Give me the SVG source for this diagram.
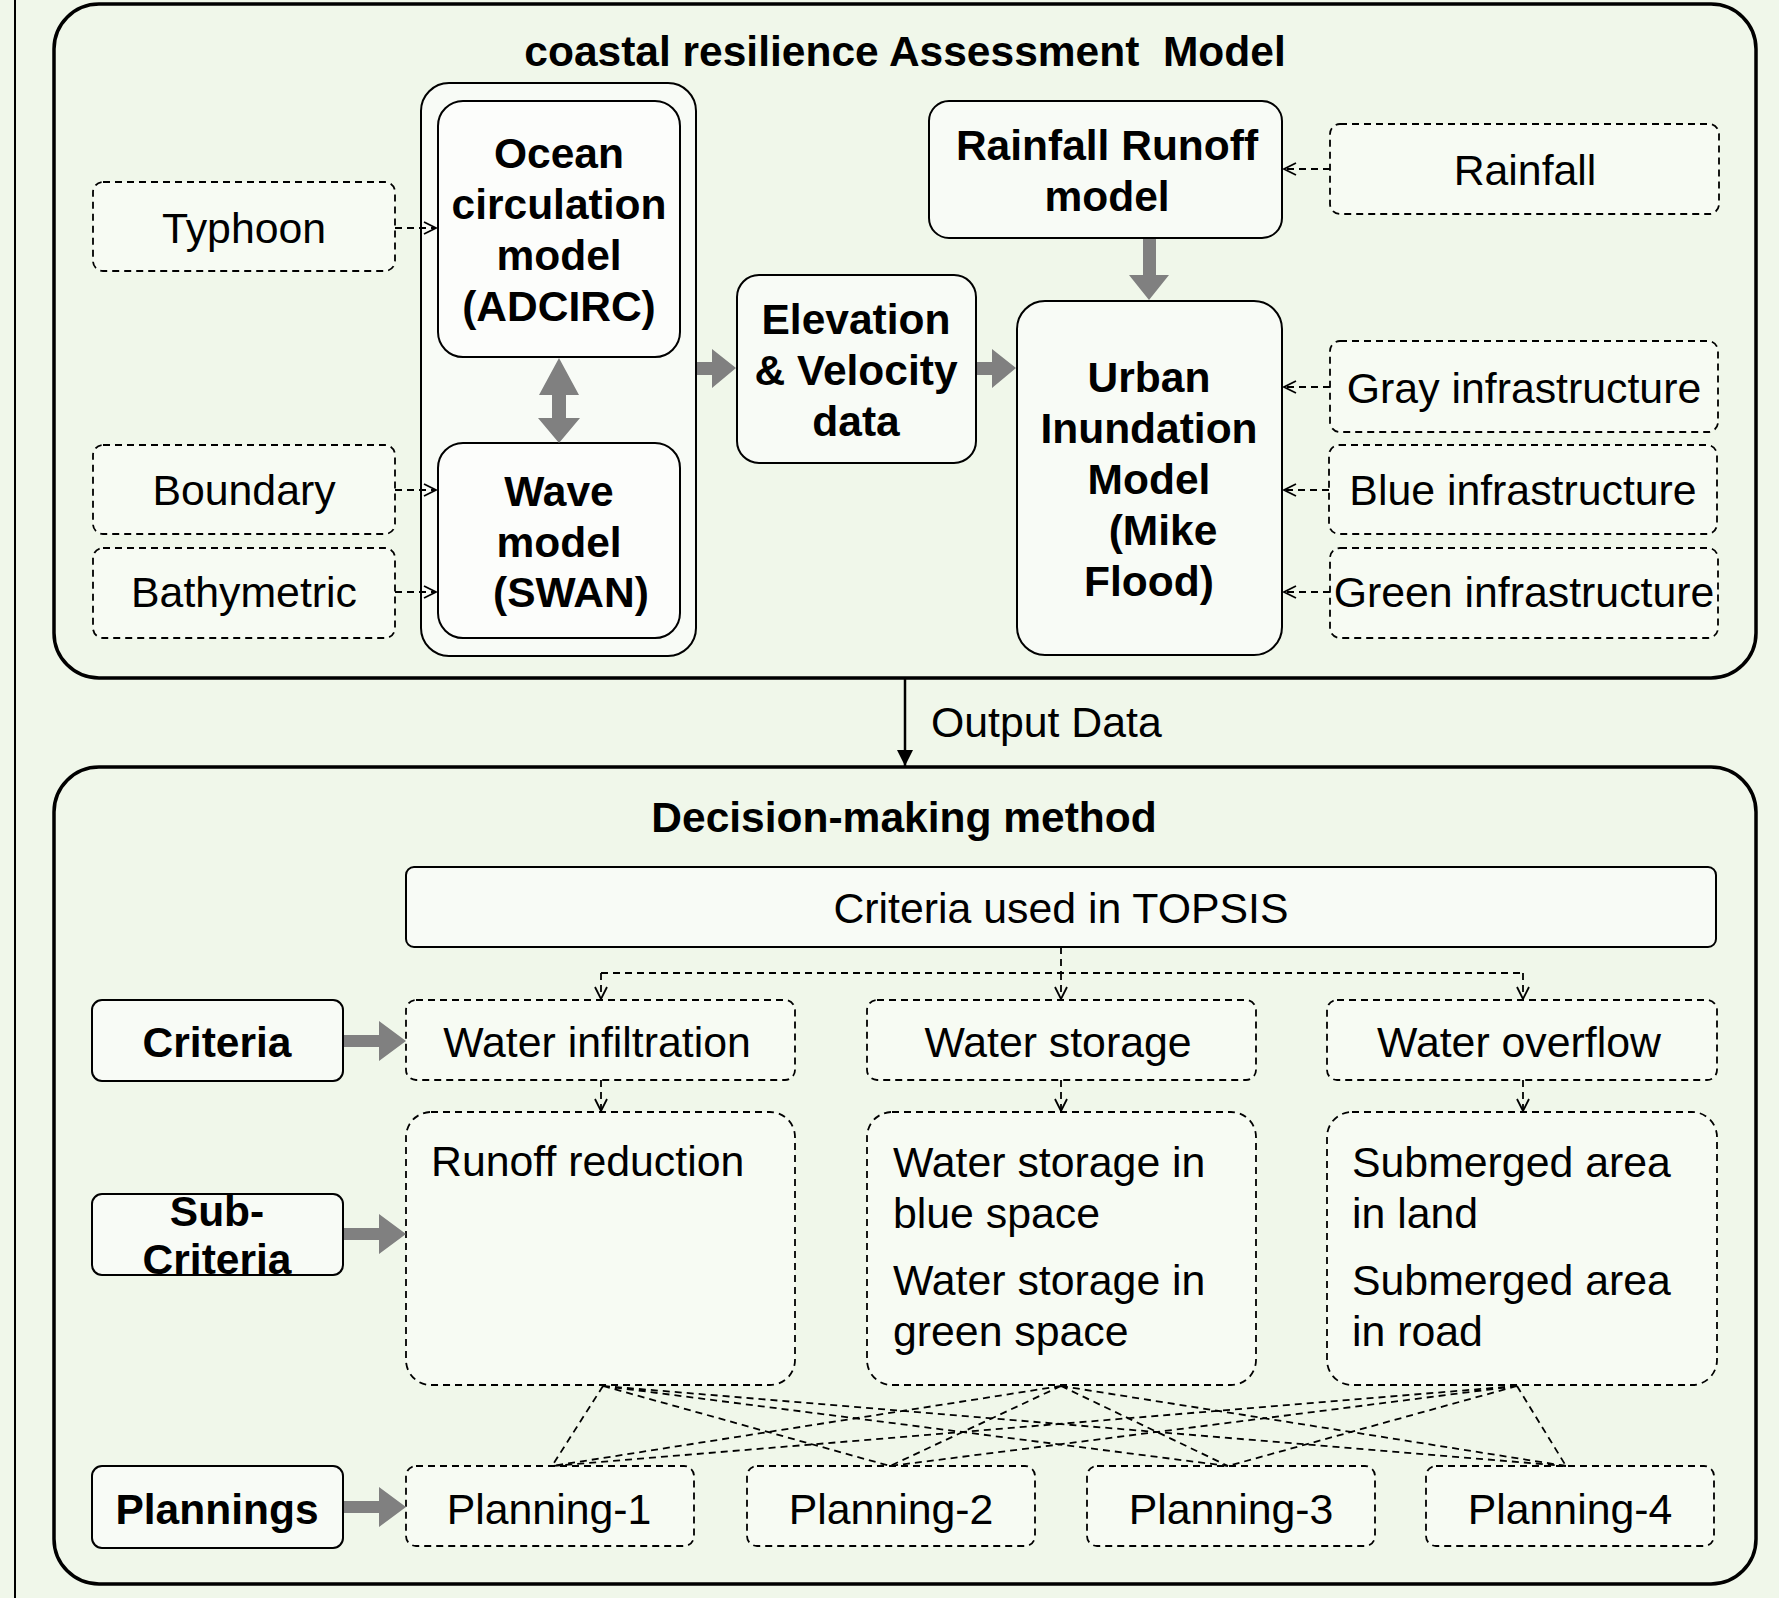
<svg xmlns="http://www.w3.org/2000/svg" width="1779" height="1598" viewBox="0 0 1779 1598">
<style>
text{font-family:"Liberation Sans",Arial,sans-serif;fill:#000}
.b{font-weight:bold;font-size:42.5px;text-anchor:middle}
.r{font-size:42.8px;text-anchor:middle}
.l{font-size:42.8px;text-anchor:start}
.frame{fill:none;stroke:#000;stroke-width:3.5}
.solid{fill:rgba(255,255,255,0.55);stroke:#000;stroke-width:2}
.dash{fill:rgba(255,255,255,0.45);stroke:#000;stroke-width:1.8;stroke-dasharray:7 5}
.dc{fill:none;stroke:#000;stroke-width:1.8;stroke-dasharray:7 5}
.gray{fill:#808080;stroke:none}
</style>
<defs>
<marker id="open" viewBox="0 0 14 14" refX="13" refY="7" markerWidth="14" markerHeight="14" markerUnits="userSpaceOnUse" orient="auto">
<path d="M1,1 L13,7 L1,13" fill="none" stroke="#000" stroke-width="1.8"/>
</marker>
<marker id="fill" viewBox="0 0 16 16" refX="16" refY="8" markerWidth="16" markerHeight="16" markerUnits="userSpaceOnUse" orient="auto">
<path d="M0,0 L16,8 L0,16 Z" fill="#000"/>
</marker>
</defs>
<rect width="1779" height="1598" fill="#f0f7ea"/>
<line x1="15" y1="0" x2="15" y2="1598" stroke="#000" stroke-width="2"/>

<g id="assessment-model">
<rect class="frame" x="54" y="4" width="1702" height="674" rx="45"/>
<text class="b" x="905" y="66" xml:space="preserve">coastal resilience Assessment  Model</text>
</g>

<g id="typhoon"><rect class="dash" x="93" y="182" width="302" height="89" rx="10"/><text class="r" x="244" y="243">Typhoon</text></g>
<g id="boundary"><rect class="dash" x="93" y="445" width="302" height="89" rx="10"/><text class="r" x="244" y="505">Boundary</text></g>
<g id="bathymetric"><rect class="dash" x="93" y="548" width="302" height="90" rx="10"/><text class="r" x="244" y="607">Bathymetric</text></g>

<g id="ocean-wave-group"><rect class="solid" x="421" y="83" width="275" height="573" rx="28"/></g>
<g id="ocean"><rect class="solid" x="438" y="101" width="242" height="256" rx="25"/>
<text class="b" x="559" y="168">Ocean</text><text class="b" x="559" y="219">circulation</text><text class="b" x="559" y="270">model</text><text class="b" x="559" y="321">(ADCIRC)</text></g>
<g id="wave"><rect class="solid" x="438" y="443" width="242" height="195" rx="25"/>
<text class="b" x="559" y="506">Wave</text><text class="b" x="559" y="557">model</text><text class="b" x="571" y="607">(SWAN)</text></g>

<g id="elevation"><rect class="solid" x="737" y="275" width="239" height="188" rx="22"/>
<text class="b" x="856" y="334">Elevation</text><text class="b" x="856" y="385">&amp; Velocity</text><text class="b" x="856" y="436">data</text></g>

<g id="rainfall-runoff"><rect class="solid" x="929" y="101" width="353" height="137" rx="20"/>
<text class="b" x="1107" y="160">Rainfall Runoff</text><text class="b" x="1107" y="211">model</text></g>

<g id="urban"><rect class="solid" x="1017" y="301" width="265" height="354" rx="28"/>
<text class="b" x="1149" y="392">Urban</text><text class="b" x="1149" y="443">Inundation</text><text class="b" x="1149" y="494">Model</text><text class="b" x="1163" y="545">(Mike</text><text class="b" x="1149" y="596">Flood)</text></g>

<g id="rainfall"><rect class="dash" x="1330" y="124" width="389" height="90" rx="10"/><text class="r" x="1525" y="185">Rainfall</text></g>
<g id="gray-infra"><rect class="dash" x="1330" y="341" width="388" height="91" rx="10"/><text class="r" x="1524" y="403">Gray infrastructure</text></g>
<g id="blue-infra"><rect class="dash" x="1329" y="445" width="388" height="89" rx="10"/><text class="r" x="1523" y="505">Blue infrastructure</text></g>
<g id="green-infra"><rect class="dash" x="1330" y="548" width="388" height="90" rx="10"/><text class="r" x="1524" y="607">Green infrastructure</text></g>

<g id="decision-method">
<rect class="frame" x="54" y="767" width="1702" height="817" rx="45"/>
<text class="b" x="904" y="832">Decision-making method</text>
</g>

<g id="topsis"><rect class="solid" x="406" y="867" width="1310" height="80" rx="8"/><text class="r" x="1061" y="923">Criteria used in TOPSIS</text></g>

<g id="criteria-label"><rect class="solid" x="92" y="1000" width="251" height="81" rx="10"/><text class="b" x="217" y="1057">Criteria</text></g>
<g id="subcriteria-label"><rect class="solid" x="92" y="1194" width="251" height="81" rx="10"/><text class="b" x="217" y="1226">Sub-</text><text class="b" x="217" y="1274">Criteria</text></g>
<g id="plannings-label"><rect class="solid" x="92" y="1466" width="251" height="82" rx="10"/><text class="b" x="217" y="1524">Plannings</text></g>

<g id="water-infiltration"><rect class="dash" x="406" y="1000" width="389" height="80" rx="10"/><text class="r" x="597" y="1057">Water infiltration</text></g>
<g id="water-storage"><rect class="dash" x="867" y="1000" width="389" height="80" rx="10"/><text class="r" x="1058" y="1057">Water storage</text></g>
<g id="water-overflow"><rect class="dash" x="1327" y="1000" width="390" height="80" rx="10"/><text class="r" x="1519" y="1057">Water overflow</text></g>

<g id="sub-infiltration"><rect class="dash" x="406" y="1112" width="389" height="273" rx="25"/><text class="l" x="431" y="1176">Runoff reduction</text></g>
<g id="sub-storage"><rect class="dash" x="867" y="1112" width="389" height="273" rx="25"/>
<text class="l" x="893" y="1177">Water storage in</text><text class="l" x="893" y="1228">blue space</text><text class="l" x="893" y="1295">Water storage in</text><text class="l" x="893" y="1346">green space</text></g>
<g id="sub-overflow"><rect class="dash" x="1327" y="1112" width="390" height="273" rx="25"/>
<text class="l" x="1352" y="1177">Submerged area</text><text class="l" x="1352" y="1228">in land</text><text class="l" x="1352" y="1295">Submerged area</text><text class="l" x="1352" y="1346">in road</text></g>

<g id="planning-1"><rect class="dash" x="406" y="1466" width="288" height="80" rx="10"/><text class="r" x="549" y="1524">Planning-1</text></g>
<g id="planning-2"><rect class="dash" x="747" y="1466" width="288" height="80" rx="10"/><text class="r" x="891" y="1524">Planning-2</text></g>
<g id="planning-3"><rect class="dash" x="1087" y="1466" width="288" height="80" rx="10"/><text class="r" x="1231" y="1524">Planning-3</text></g>
<g id="planning-4"><rect class="dash" x="1426" y="1466" width="288" height="80" rx="10"/><text class="r" x="1570" y="1524">Planning-4</text></g>

<g id="connectors">
<path class="dc" d="M395,228 H436" marker-end="url(#open)"/>
<path class="dc" d="M395,490 H436" marker-end="url(#open)"/>
<path class="dc" d="M395,592 H436" marker-end="url(#open)"/>
<path class="dc" d="M1330,169 H1284" marker-end="url(#open)"/>
<path class="dc" d="M1330,387 H1284" marker-end="url(#open)"/>
<path class="dc" d="M1329,490 H1284" marker-end="url(#open)"/>
<path class="dc" d="M1330,592 H1284" marker-end="url(#open)"/>
<polygon class="gray" points="559,358 579,395 566,395 566,418 580,418 559,443 538,418 552,418 552,395 539,395"/>
<polygon class="gray" points="697,362 712,362 712,349 736,368 712,388 712,375 697,375"/>
<polygon class="gray" points="977,362 992,362 992,349 1016,368 992,388 992,375 977,375"/>
<polygon class="gray" points="1143,239 1156,239 1156,275 1169,275 1149,300 1129,275 1143,275"/>
<path d="M905,678 V766" fill="none" stroke="#000" stroke-width="2.5" marker-end="url(#fill)"/>
<text class="l" x="931" y="737">Output Data</text>
<path class="dc" d="M1061,947 V973 M601,973 H1523"/>
<path class="dc" d="M601,973 V999" marker-end="url(#open)"/>
<path class="dc" d="M1061,973 V999" marker-end="url(#open)"/>
<path class="dc" d="M1523,973 V999" marker-end="url(#open)"/>
<path class="dc" d="M601,1080 V1111" marker-end="url(#open)"/>
<path class="dc" d="M1061,1080 V1111" marker-end="url(#open)"/>
<path class="dc" d="M1523,1080 V1111" marker-end="url(#open)"/>
<polygon class="gray" points="344,1035 379,1035 379,1021 406,1041 379,1061 379,1047 344,1047"/>
<polygon class="gray" points="344,1228 379,1228 379,1214 406,1234 379,1254 379,1240 344,1240"/>
<polygon class="gray" points="344,1501 379,1501 379,1487 406,1507 379,1527 379,1513 344,1513"/>
<path class="dc" d="M603,1386 L552,1466 M603,1386 L890,1466 M603,1386 L1228,1466 M603,1386 L1566,1466"/>
<path class="dc" d="M1061,1386 L552,1466 M1061,1386 L890,1466 M1061,1386 L1228,1466 M1061,1386 L1566,1466"/>
<path class="dc" d="M1517,1386 L552,1466 M1517,1386 L890,1466 M1517,1386 L1228,1466 M1517,1386 L1566,1466"/>
</g>
</svg>
